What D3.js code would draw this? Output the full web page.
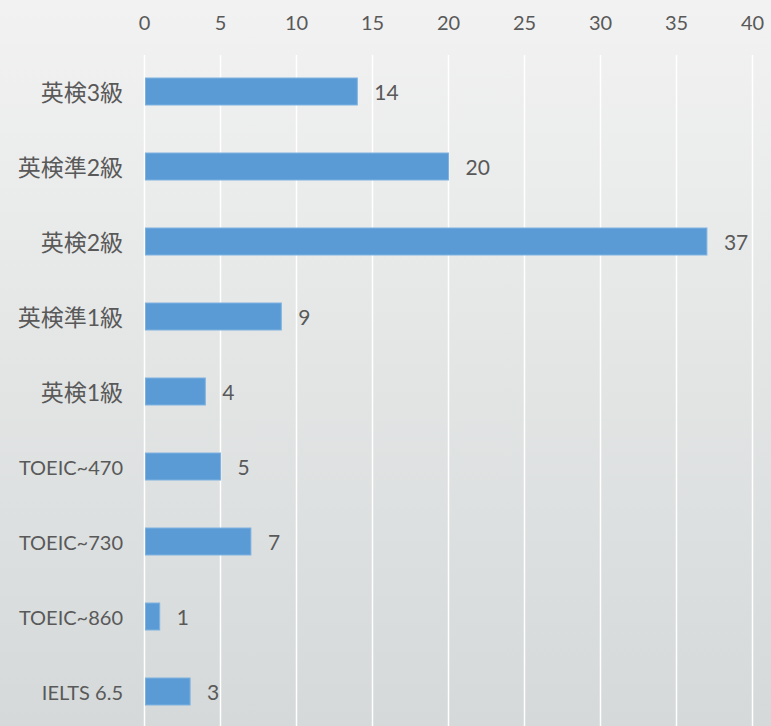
<!DOCTYPE html>
<html lang="ja">
<head>
<meta charset="utf-8">
<script src="https://cdn.jsdelivr.net/npm/d3@7"></script>
<style>
  body { margin: 0; }
  text { font-family: Lato, "Noto Sans CJK JP", sans-serif; fill: #595959; }
</style>
</head>
<body>
<div id="chart"></div>
<script>
// data
var categories = ["英検3級", "英検準2級", "英検2級", "英検準1級", "英検1級", "TOEIC~470", "TOEIC~730", "TOEIC~860", "IELTS 6.5"];
var counts = [14, 20, 37, 9, 4, 5, 7, 1, 3];
var tickValues = [0, 5, 10, 15, 20, 25, 30, 35, 40];

var W = 771, H = 726;

var svg = d3.select("#chart").append("svg")
    .attr("width", W)
    .attr("height", H);

// background gradient
var grad = svg.append("defs").append("linearGradient")
    .attr("id", "bg")
    .attr("x1", 0).attr("y1", 0).attr("x2", 0).attr("y2", 1);
grad.append("stop").attr("offset", "0%").attr("stop-color", "#f2f2f2");
grad.append("stop").attr("offset", "100%").attr("stop-color", "#d5d9d9");
svg.append("rect").attr("width", W).attr("height", H).attr("fill", "url(#bg)");

var x = d3.scaleLinear()
    .domain([0, 40])
    .range([144.5, 752.5]);

var y = d3.scaleBand()
    .domain(categories)
    .range([54, 729])
    .paddingInner(0.64)
    .paddingOuter(0.32);

// gridlines
svg.append("g")
    .selectAll("line")
    .data(tickValues)
    .enter()
    .append("line")
    .attr("x1", function(d) { return x(d); })
    .attr("x2", function(d) { return x(d); })
    .attr("y1", 55)
    .attr("y2", H)
    .attr("stroke", "#ffffff")
    .attr("stroke-width", 1.5);

// top axis labels
svg.append("g")
    .selectAll("text")
    .data(tickValues)
    .enter()
    .append("text")
    .attr("x", function(d) { return x(d); })
    .attr("y", 30)
    .attr("text-anchor", "middle")
    .style("font-size", "20px")
    .text(function(d) { return d; });

var data = categories.map(function(c, i) { return {cat: c, val: counts[i]}; });

// bars
svg.append("g")
    .selectAll("rect")
    .data(data)
    .enter()
    .append("rect")
    .attr("x", x(0) + 1)
    .attr("y", function(d) { return y(d.cat); })
    .attr("width", function(d) { return x(d.val) - x(0) - 1; })
    .attr("height", y.bandwidth())
    .attr("fill", "#5b9bd5")
    .attr("stroke", "#7fb2e0")
    .attr("stroke-width", 1);

// value labels
svg.append("g")
    .selectAll("text")
    .data(data)
    .enter()
    .append("text")
    .attr("x", function(d) { return x(d.val) + 17; })
    .attr("y", function(d) { return y(d.cat) + y.bandwidth() / 2 + 1; })
    .attr("dy", "0.36em")
    .style("font-size", "21px")
    .text(function(d) { return d.val; });

// category labels
svg.append("g")
    .selectAll("text")
    .data(data)
    .enter()
    .append("text")
    .attr("x", 123)
    .attr("y", function(d) { return y(d.cat) + y.bandwidth() / 2 + 1; })
    .attr("dy", "0.36em")
    .attr("text-anchor", "end")
    .style("font-size", function(d) { return /[^\x00-\x7f]/.test(d.cat) ? "23px" : "20px"; })
    .text(function(d) { return d.cat; });
</script>
</body>
</html>
